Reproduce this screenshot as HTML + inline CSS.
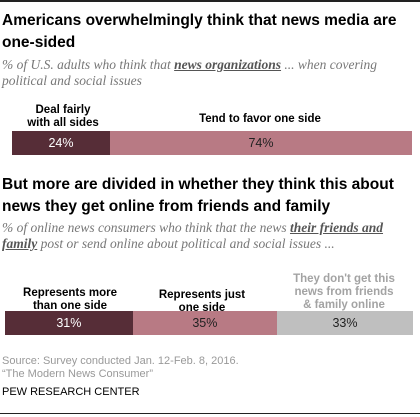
<!DOCTYPE html>
<html><head><meta charset="utf-8"><style>
body{margin:0;width:420px;height:417px;background:#fff;position:relative;overflow:hidden;font-family:"Liberation Sans",sans-serif}
.abs{position:absolute}
.t{font-weight:bold;font-size:15.5px;color:#000;line-height:22px;left:2px;width:416px}
.s{font-family:"Liberation Serif",serif;font-style:italic;font-size:13.5px;color:#777;line-height:16px;left:2px;width:400px}
.s u{font-weight:bold;color:#555}
.lab{font-weight:bold;font-size:11.5px;line-height:13px;text-align:center}
.seg{position:absolute;top:0;height:100%;display:flex;align-items:center;justify-content:center;font-size:12.5px}
</style></head><body>
<div class="abs" style="left:0;top:0;width:420px;height:2px;background:#222"></div>
<div class="abs t" style="top:10px">Americans overwhelmingly think that news media are one-sided</div>
<div class="abs s" style="top:57px">% of U.S. adults who think that <u>news organizations</u> ... when covering political and social issues</div>
<div class="abs lab" style="left:13px;width:100px;top:104px">Deal fairly<br>with all sides</div>
<div class="abs lab" style="left:160px;width:200px;top:113px">Tend to favor one side</div>
<div class="abs" id="bar1" style="left:12px;top:131px;width:400px;height:24px"></div>
<div class="abs t" style="top:174px">But more are divided in whether they think this about news they get online from friends and family</div>
<div class="abs s" style="top:220px">% of online news consumers who think that the news <u>their friends and family</u> post or send online about political and social issues ...</div>
<div class="abs lab" style="left:10px;width:120px;top:287px">Represents more<br>than one side</div>
<div class="abs lab" style="left:142px;width:120px;top:289px">Represents just<br>one side</div>
<div class="abs lab" style="left:284px;width:120px;top:273px;color:#a3a3a3">They don't get this<br>news from friends<br>&amp; family online</div>
<div class="abs" id="bar2" style="left:5px;top:311px;width:408px;height:24px"></div>
<div class="abs" style="left:2px;top:355px;font-size:11px;color:#999;line-height:13px">Source: Survey conducted Jan. 12-Feb. 8, 2016.<br>“The Modern News Consumer”</div>
<div class="abs" style="left:2px;top:386px;font-size:11px;color:#000">PEW RESEARCH CENTER</div>
<div class="abs" style="left:0;top:413px;width:420px;height:1px;background:#222"></div>
<script>
const bar1Values=[24,74];
const bar1Colors=["#562d37","#b87a84"];
const bar1Text=["#fff","#222"];
const bar2Values=[31,35,33];
const bar2Colors=["#562d37","#b87a84","#bfbfbf"];
const bar2Text=["#fff","#222","#222"];
function draw(id,vals,cols,txt,name){
  const el=document.getElementById(id);
  const W=el.offsetWidth;const tot=vals.reduce((a,b)=>a+b,0);
  let x=0;
  vals.forEach((v,i)=>{
    const w=v/tot*W;
    const d=document.createElement('div');
    d.className='seg';
    
    
    d.style.left=x+'px';d.style.width=w+'px';d.style.background=cols[i];d.style.color=txt[i];
    d.textContent=v+'%';
    el.appendChild(d);x+=w;
  });
}
draw('bar1',bar1Values,bar1Colors,bar1Text,'news-orgs');
draw('bar2',bar2Values,bar2Colors,bar2Text,'friends-family');
</script>
</body></html>
